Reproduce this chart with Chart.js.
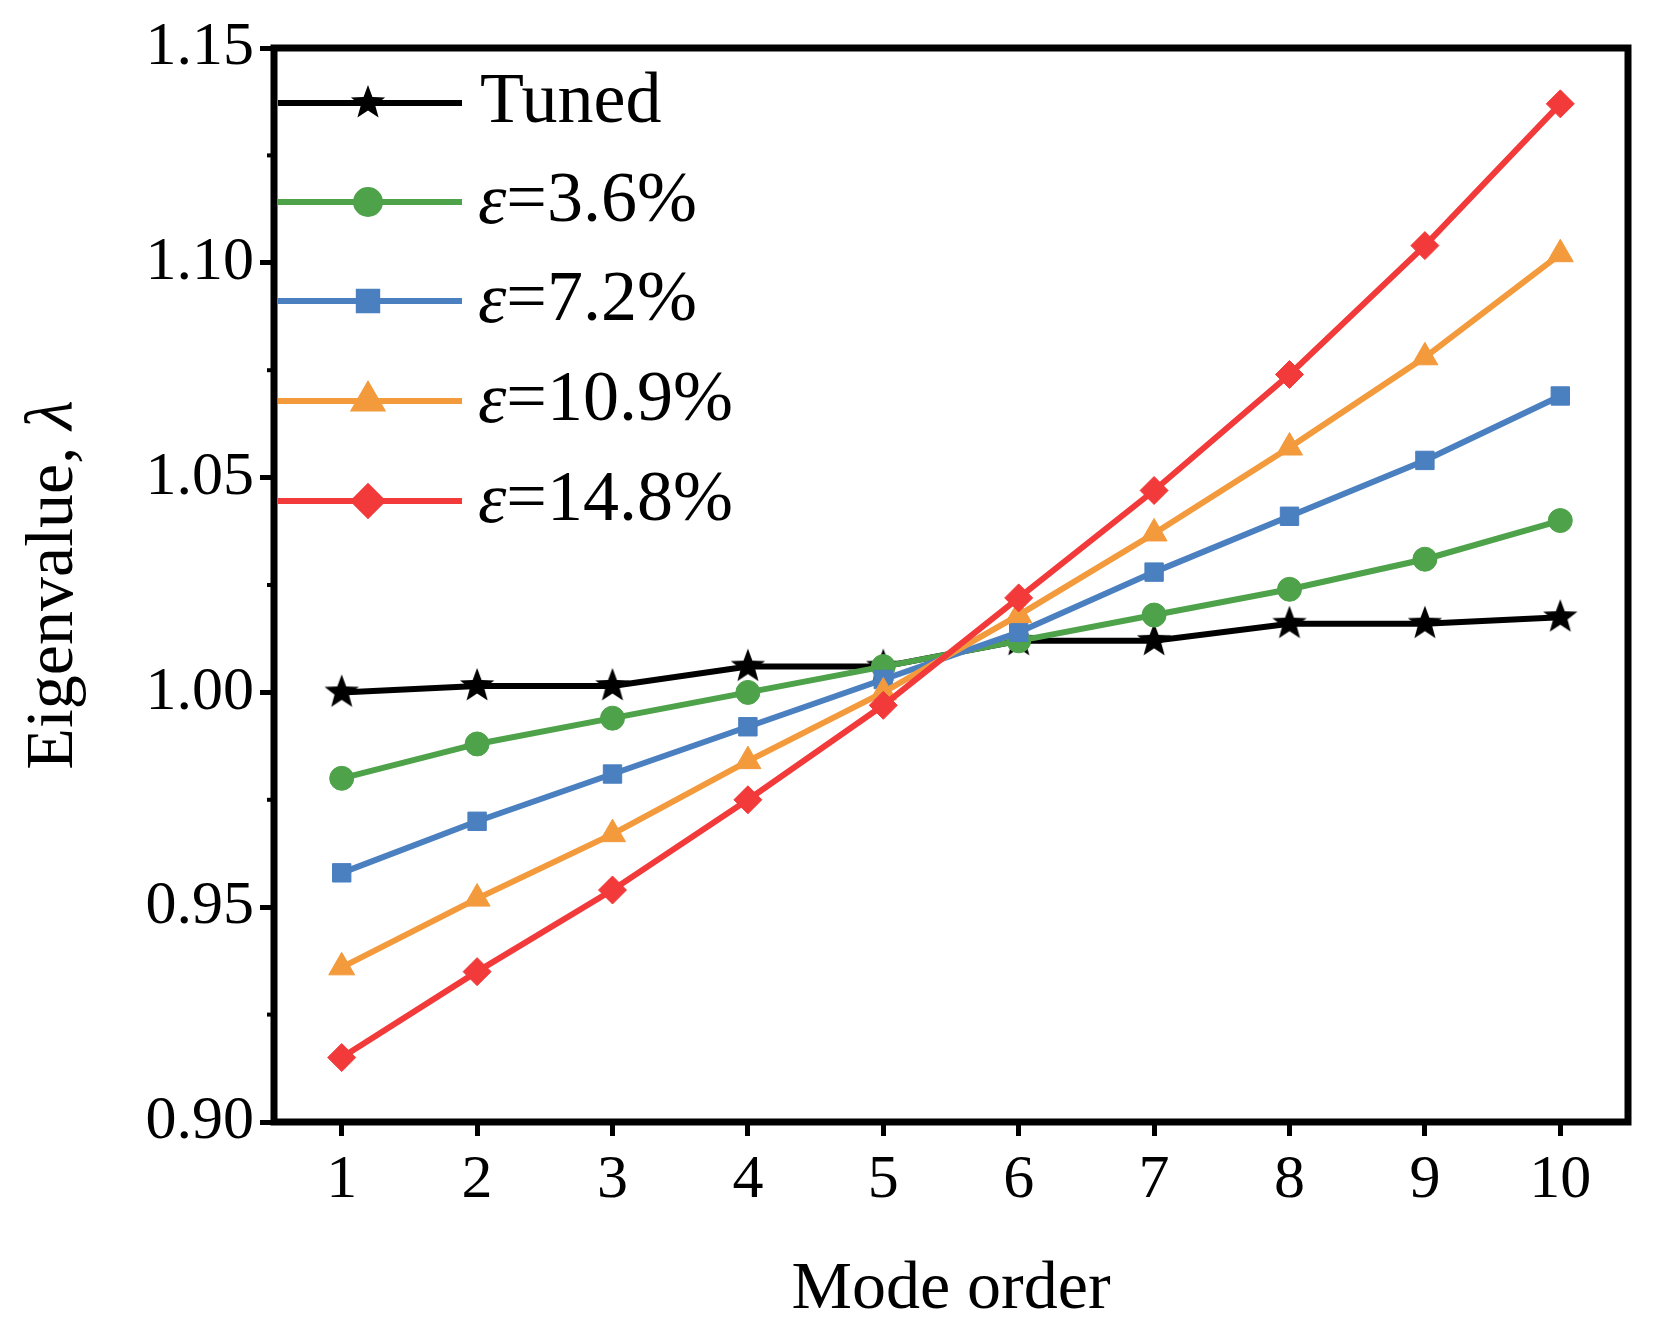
<!DOCTYPE html>
<html><head><meta charset="utf-8">
<script src="https://cdn.jsdelivr.net/npm/chart.js@4"></script>
<style>html,body{margin:0;padding:0;background:#fff}#w{width:1656px;height:1341px}</style>
</head><body><div id="w"><canvas id="c"></canvas></div>
<script>
const modes=[1,2,3,4,5,6,7,8,9,10];
const tuned=[1.000,1.0015,1.0015,1.006,1.006,1.012,1.012,1.016,1.016,1.0175];
const eps36=[0.980,0.988,0.994,1.000,1.006,1.012,1.018,1.024,1.031,1.040];
const eps72=[0.958,0.970,0.981,0.992,1.003,1.014,1.028,1.041,1.054,1.069];
const eps109=[0.936,0.952,0.967,0.984,1.000,1.018,1.037,1.057,1.078,1.102];
const eps148=[0.915,0.935,0.954,0.975,0.997,1.022,1.047,1.074,1.104,1.137];
const labels=['Tuned','=3.6%','=7.2%','=10.9%','=14.8%'];
const yTicks=[0.90,0.95,1.00,1.05,1.10,1.15];

function starImg(r){const c=document.createElement('canvas');c.width=c.height=2*r+2;const g=c.getContext('2d');g.fillStyle='#000';g.beginPath();
for(let i=0;i<10;i++){const a=-Math.PI/2+i*Math.PI/5;const rr=i%2?r*0.42:r;g.lineTo(r+1+rr*Math.cos(a),r+1+rr*Math.sin(a));}g.closePath();g.fill();return c;}
const star=starImg(18);
const cols=['#000000','#4ea24a','#4a7fc0','#f39a3c','#f23a3a'];
const styles=[star,'circle','rect','triangle','rectRot'];
const radii=[18,12,13,15,14];
const series=[tuned,eps36,eps72,eps109,eps148];
const datasets=series.map((s,i)=>({label:labels[i],data:s.map((v,j)=>({x:modes[j],y:v})),borderColor:cols[i],backgroundColor:cols[i],pointBackgroundColor:cols[i],pointBorderColor:cols[i],borderWidth:6,pointStyle:styles[i],pointRadius:radii[i],pointBorderWidth:1,order:-i}));

const F='"Liberation Serif","Times New Roman",serif';
const deco={id:'deco',afterDraw(ch){const g=ch.ctx,a=ch.chartArea,y=ch.scales.y,x=ch.scales.x;g.save();
g.strokeStyle='#000';g.lineWidth=7;g.strokeRect(a.left,a.top,a.right-a.left,a.bottom-a.top);
g.lineWidth=4;for(let v=0.925;v<1.15;v+=0.05){const p=y.getPixelForValue(v);g.beginPath();g.moveTo(a.left,p);g.lineTo(a.left-7,p);g.stroke();}
g.fillStyle='#000';g.font='68px '+F;g.textAlign='center';g.textBaseline='alphabetic';
g.fillText('Mode order',(a.left+a.right)/2,1308);
g.save();g.translate(72,(a.top+a.bottom)/2);g.rotate(-Math.PI/2);g.font='68px '+F;const t1='Eigenvalue, ';const w1=g.measureText(t1).width;g.font='italic 68px '+F;const w2=g.measureText('λ').width;
g.textAlign='left';g.font='68px '+F;g.fillText(t1,-(w1+w2)/2,0);g.font='italic 68px '+F;g.fillText('λ',-(w1+w2)/2+w1,0);g.restore();
const rows=[103,202,301,401,501];
rows.forEach((ry,i)=>{g.strokeStyle=cols[i];g.lineWidth=6;g.beginPath();g.moveTo(278,ry);g.lineTo(462,ry);g.stroke();
g.fillStyle=cols[i];const r=radii[i];const cx=368;
if(i==0)g.drawImage(star,cx-star.width/2,ry-star.height/2);else{Chart.helpers.drawPoint(g,{pointStyle:styles[i],radius:r,borderWidth:1},cx,ry);g.fill();}
g.fillStyle='#000';g.textAlign='left';g.textBaseline='middle';
if(i==0){g.font='72px '+F;g.fillText('Tuned',480,ry);}else{g.font='italic 72px '+F;g.fillText('ε',478,ry+2);const w=g.measureText('ε').width;g.font='72px '+F;g.fillText(labels[i],478+w,ry);}
});g.restore();}};

new Chart(document.getElementById('c'),{type:'line',data:{datasets},plugins:[deco],
options:{responsive:true,maintainAspectRatio:false,animation:false,layout:{padding:{top:48,right:28,left:0,bottom:0}},
plugins:{legend:{display:false},tooltip:{enabled:false}},
scales:{x:{type:'linear',min:0.5,max:10.5,afterBuildTicks(s){s.ticks=modes.map(v=>({value:v}));},afterFit(s){s.height=219;},
grid:{drawOnChartArea:false,tickLength:14,tickWidth:5,color:'#000'},border:{display:false},
ticks:{color:'#000',font:{family:F,size:62},padding:8,autoSkip:false,maxRotation:0}},
y:{min:0.9,max:1.15,afterBuildTicks(s){s.ticks=yTicks.map(v=>({value:v}));},afterFit(s){s.width=274;},
grid:{drawOnChartArea:false,tickLength:14,tickWidth:5,color:'#000'},border:{display:false},
ticks:{color:'#000',font:{family:F,size:62},padding:6,callback:v=>v.toFixed(2)}}}}});
</script></body></html>
